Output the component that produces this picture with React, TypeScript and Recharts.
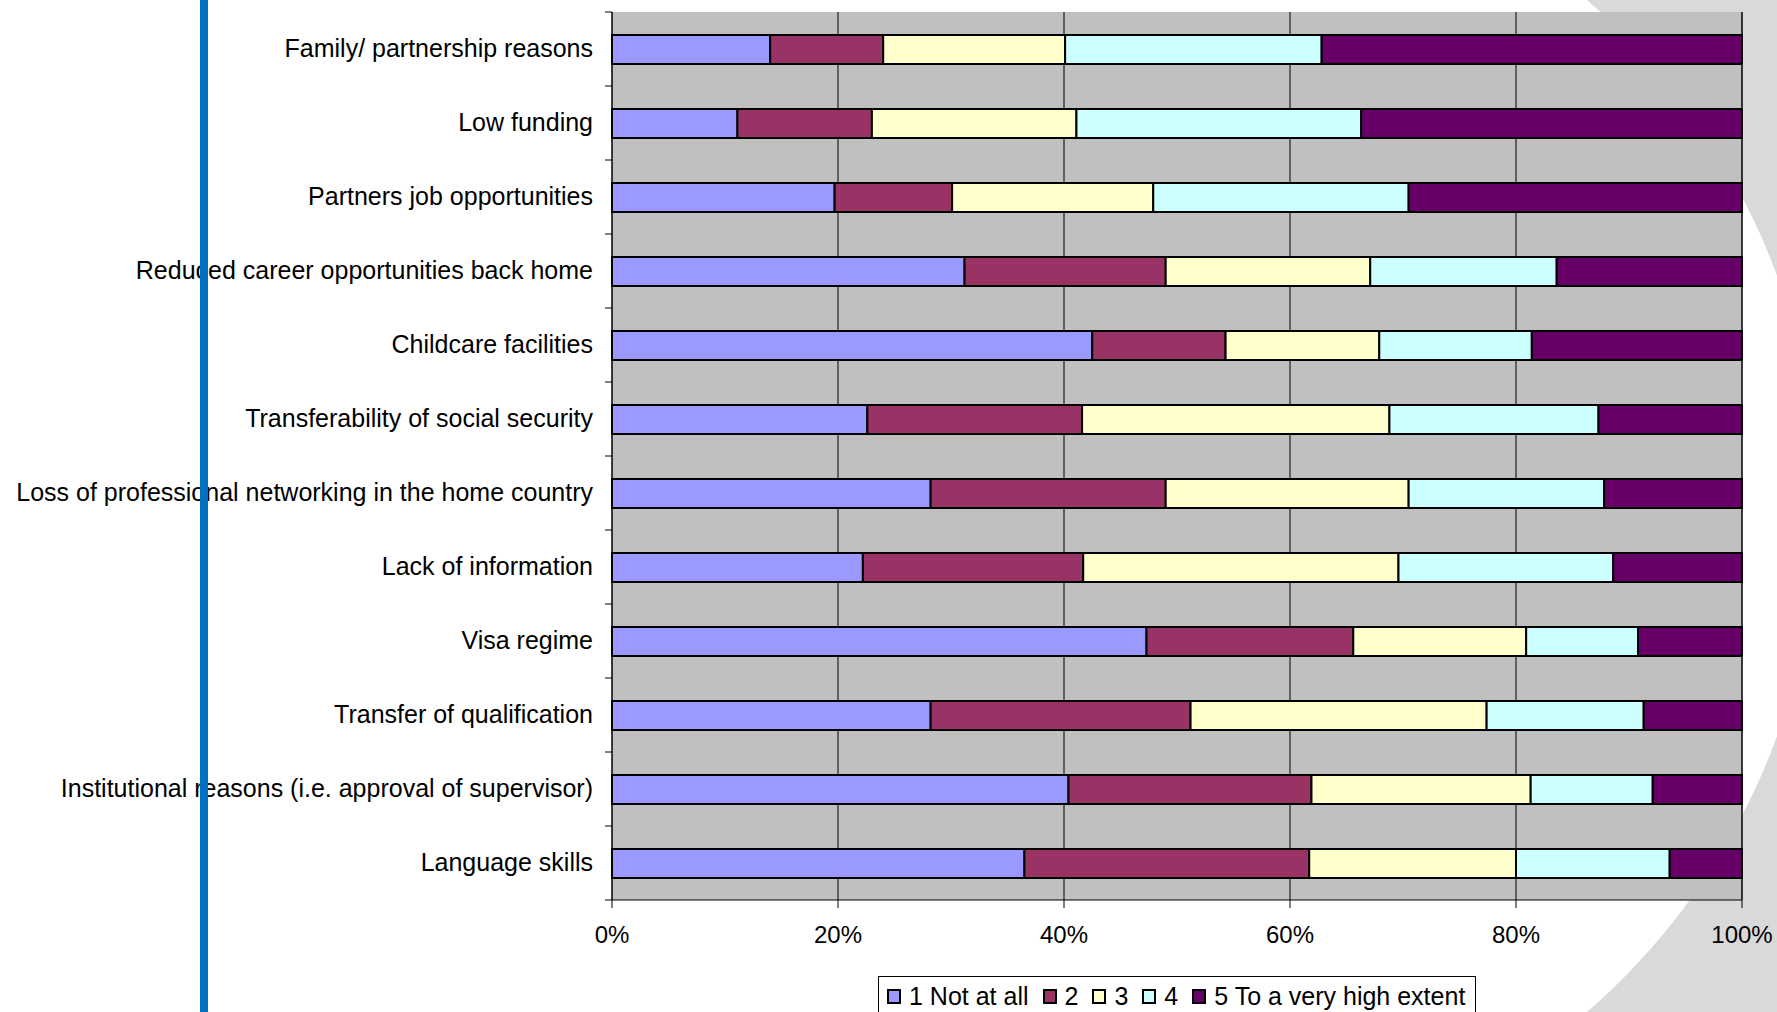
import { BarChart, Bar, XAxis, YAxis, CartesianGrid, Legend } from 'recharts'

// reasons, top to bottom as in the chart
const reasons = [
  'Family/ partnership reasons',
  'Low funding',
  'Partners job opportunities',
  'Reduced career opportunities back home',
  'Childcare facilities',
  'Transferability of social security',
  'Loss of professional networking in the home country',
  'Lack of information',
  'Visa regime',
  'Transfer of qualification',
  'Institutional reasons (i.e. approval of supervisor)',
  'Language skills',
]

// share of answers (%) per scale point
const notAtAll = [14.0, 11.1, 19.7, 31.2, 42.5, 22.6, 28.2, 22.2, 47.3, 28.2, 40.4, 36.5]
const two = [10.0, 11.9, 10.4, 17.8, 11.8, 19.0, 20.8, 19.5, 18.3, 23.0, 21.5, 25.2]
const three = [16.1, 18.1, 17.8, 18.1, 13.6, 27.2, 21.5, 27.9, 15.3, 26.2, 19.4, 18.3]
const four = [22.7, 25.2, 22.6, 16.5, 13.5, 18.5, 17.3, 19.0, 9.9, 13.9, 10.8, 13.6]
const veryHigh = [37.2, 33.7, 29.5, 16.4, 18.6, 12.7, 12.2, 11.4, 9.2, 8.7, 7.9, 6.4]

const seriesNames = ['1 Not at all', '2', '3', '4', '5 To a very high extent']
const seriesColors = ['#9999FF', '#993366', '#FFFFCC', '#CCFFFF', '#660066']
const seriesValues = [notAtAll, two, three, four, veryHigh]

const xTicks = [0, 20, 40, 60, 80, 100]

const data = reasons.map((name, i) => {
  const row: any = { name }
  seriesNames.forEach((s, k) => {
    row[s] = seriesValues[k][i]
  })
  return row
})

const FONT = '"Liberation Sans", Arial, sans-serif'
const W = 1777
const H = 1012
const TOP = 12
const AXIS_W = 612
const BAND = 74

function ReasonTick(props: any) {
  const { y, payload, index } = props
  return (
    <g>
      <line x1={AXIS_W - 7} x2={AXIS_W} y1={y - BAND / 2} y2={y - BAND / 2} stroke="#000" />
      {index === reasons.length - 1 && (
        <line x1={AXIS_W - 7} x2={AXIS_W} y1={y + BAND / 2} y2={y + BAND / 2} stroke="#000" />
      )}
      <text
        x={AXIS_W - 19}
        y={y - 1}
        textAnchor="end"
        dominantBaseline="central"
        fontSize={25}
        fontFamily={FONT}
        fill="#000"
      >
        {payload.value}
      </text>
    </g>
  )
}

function LegendBox({ payload }: any) {
  return (
    <div
      style={{
        border: '1px solid #000',
        background: '#fff',
        height: 60,
        boxSizing: 'border-box',
        display: 'flex',
        alignItems: 'flex-start',
        paddingLeft: 8,
        paddingTop: 5,
        fontFamily: FONT,
        fontSize: 25,
        color: '#000',
        whiteSpace: 'nowrap',
      }}
    >
      {(payload || []).map((p: any) => (
        <div key={p.value} style={{ display: 'flex', alignItems: 'center', marginRight: 14, height: 28 }}>
          <span
            style={{
              display: 'inline-block',
              width: 10,
              height: 11,
              background: p.color,
              border: '2px solid #000',
              marginRight: 8,
            }}
          />
          <span>{p.value}</span>
        </div>
      ))}
    </div>
  )
}

export default function App() {
  return (
    <div style={{ position: 'absolute', left: 0, top: 0, width: W, height: H, overflow: 'hidden', background: '#fff' }}>
      <svg width={W} height={H} style={{ position: 'absolute', left: 0, top: 0 }}>
        <path d="M1587,0 A670,670 0 0 1 1587,1012 L1777,1012 L1777,0 Z" fill="#D9D9D9" />
      </svg>
      <div style={{ position: 'absolute', left: 0, top: 0 }}>
        <BarChart
          width={W}
          height={H}
          data={data}
          layout="vertical"
          margin={{ top: TOP, right: 35, bottom: 0, left: 0 }}
        >
          <CartesianGrid horizontal={false} vertical stroke="#000" fill="#C0C0C0" fillOpacity={1} />
          <XAxis
            type="number"
            domain={[0, 100]}
            ticks={xTicks}
            tickFormatter={(v) => `${v}%`}
            height={H - TOP - BAND * reasons.length}
            axisLine={{ stroke: '#000' }}
            tickLine={{ stroke: '#000' }}
            tickSize={8}
            tickMargin={18}
            tick={{ fontSize: 24, fontFamily: FONT, fill: '#000' }}
          />
          <XAxis
            xAxisId="top"
            orientation="top"
            type="number"
            domain={[0, 100]}
            height={0}
            tick={false}
            tickLine={false}
            axisLine={{ stroke: '#808080', strokeWidth: 2 }}
          />
          <YAxis
            type="category"
            dataKey="name"
            width={AXIS_W}
            axisLine={{ stroke: '#000' }}
            tickLine={false}
            tick={<ReasonTick />}
            interval={0}
          />
          <YAxis
            yAxisId="right"
            orientation="right"
            type="category"
            dataKey="name"
            width={0}
            tick={false}
            tickLine={false}
            axisLine={{ stroke: '#808080', strokeWidth: 2 }}
          />
          {seriesNames.map((s, k) => (
            <Bar
              key={s}
              dataKey={s}
              name={s}
              stackId="a"
              fill={seriesColors[k]}
              stroke="#000"
              strokeWidth={2}
              barSize={29}
              isAnimationActive={false}
            />
          ))}
          <Legend
            layout="horizontal"
            verticalAlign="middle"
            align="center"
            wrapperStyle={{ left: 878, top: 976, width: 598, height: 60 }}
            content={<LegendBox />}
          />
        </BarChart>
      </div>
      <div style={{ position: 'absolute', left: 200, top: 0, width: 8, height: H, background: '#0070C0' }} />
    </div>
  )
}
